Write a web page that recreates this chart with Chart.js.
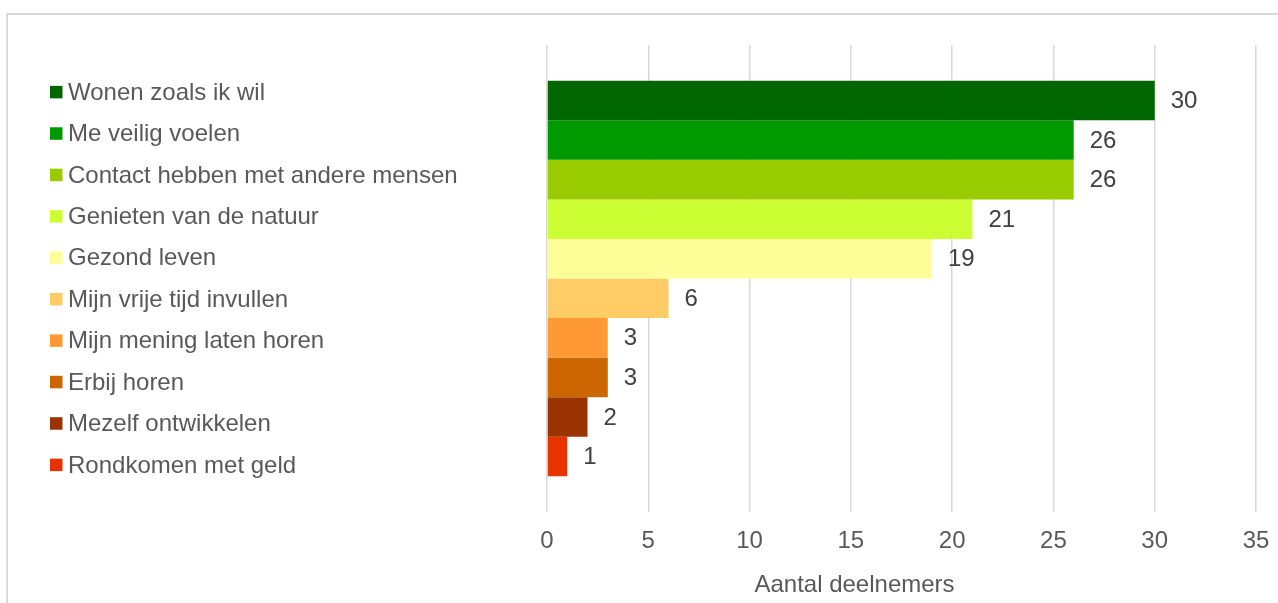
<!DOCTYPE html>
<html><head><meta charset="utf-8">
<script src="https://cdn.jsdelivr.net/npm/chart.js@4/dist/chart.umd.min.js"></script>
<style>
html,body{margin:0;padding:0;background:#fff;overflow:hidden}
#frame{position:absolute;left:6px;top:13px;width:1400px;height:700px;border-top:2px solid #d9d9d9;border-left:2px solid #d9d9d9;}
#wrap{position:absolute;left:0;top:0;width:1278px;height:603px}
</style></head><body>
<div id="frame"></div>
<div id="wrap"><canvas id="c"></canvas></div>
<script>
const categories = [
  'Wonen zoals ik wil',
  'Me veilig voelen',
  'Contact hebben met andere mensen',
  'Genieten van de natuur',
  'Gezond leven',
  'Mijn vrije tijd invullen',
  'Mijn mening laten horen',
  'Erbij horen',
  'Mezelf ontwikkelen',
  'Rondkomen met geld'
];
const values = [30, 26, 26, 21, 19, 6, 3, 3, 2, 1];
const colors = ['#006600', '#009900', '#99CC00', '#CCFF33', '#FFFF99', '#FFCC66', '#FF9933', '#CC6600', '#993300', '#E63300'];
const xMin = 0, xMax = 35, xStep = 5;
const axisTitle = 'Aantal deelnemers';

const FONT = '"Liberation Sans", Arial, sans-serif';
const FS = 24;

const datasets = categories.map((name, i) => ({
  label: name,
  data: [values[i]],
  backgroundColor: colors[i],
  borderWidth: 0,
  categoryPercentage: 0.847,
  barPercentage: 1
}));

const valueLabels = {
  id: 'valueLabels',
  afterDatasetsDraw(chart) {
    const ctx = chart.ctx;
    ctx.save();
    ctx.font = FS + 'px ' + FONT;
    ctx.fillStyle = '#404040';
    ctx.textBaseline = 'middle';
    ctx.textAlign = 'left';
    chart.data.datasets.forEach((ds, i) => {
      chart.getDatasetMeta(i).data.forEach((bar, j) => {
        ctx.fillText(String(ds.data[j]), bar.x + 16, bar.y + 1);
      });
    });
    ctx.restore();
  }
};

const sideLegend = {
  id: 'sideLegend',
  afterDraw(chart) {
    const ctx = chart.ctx;
    const a = chart.chartArea;
    const n = chart.data.datasets.length;
    const step = 41.42;
    const cy = (a.top + a.bottom) / 2 - (n - 1) * step / 2;
    ctx.save();
    ctx.font = FS + 'px ' + FONT;
    ctx.textBaseline = 'middle';
    ctx.textAlign = 'left';
    chart.data.datasets.forEach((ds, i) => {
      const y = cy + i * step;
      ctx.fillStyle = ds.backgroundColor;
      ctx.fillRect(50, y - 6.25, 12.5, 12.5);
      ctx.fillStyle = '#595959';
      ctx.fillText(ds.label, 68, y + 1);
    });
    ctx.restore();
  }
};

const axisTitlePlugin = {
  id: 'axisTitlePlugin',
  afterDraw(chart) {
    const ctx = chart.ctx;
    const a = chart.chartArea;
    ctx.save();
    ctx.font = FS + 'px ' + FONT;
    ctx.fillStyle = '#595959';
    ctx.textBaseline = 'middle';
    ctx.textAlign = 'center';
    ctx.fillText(axisTitle, (a.left + a.right) / 2 - 47, a.bottom + 73);
    ctx.restore();
  }
};

Chart.defaults.font.family = FONT;
Chart.defaults.font.size = FS;
Chart.defaults.color = '#595959';

const chart = new Chart(document.getElementById('c'), {
  type: 'bar',
  data: { labels: [''], datasets },
  options: {
    indexAxis: 'y',
    responsive: true,
    maintainAspectRatio: false,
    animation: false,
    layout: { padding: { top: 45, right: 22, bottom: 33, left: 547 } },
    plugins: {
      tooltip: { enabled: false },
      legend: { display: false }
    },
    scales: {
      x: {
        min: xMin, max: xMax,
        ticks: { stepSize: xStep, padding: 14.6, color: '#595959', font: { size: FS } },
        grid: { color: '#d9d9d9', lineWidth: 1.5, drawTicks: false },
        border: { display: false },
        afterFit(s) { s.paddingRight = 0; s.paddingLeft = 0; }
      },
      y: {
        display: false
      }
    }
  },
  plugins: [valueLabels, sideLegend, axisTitlePlugin]
});
</script>
</body></html>
